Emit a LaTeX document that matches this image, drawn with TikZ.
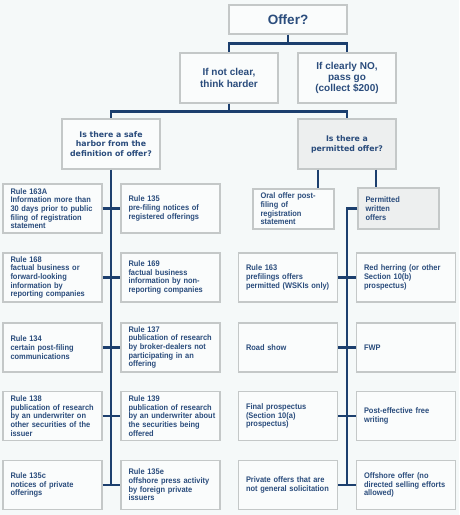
\documentclass[tikz,border=0pt]{standalone}
\usepackage{fontspec}
\setmainfont{Liberation Sans}
\newfontfamily\rulefont[FakeStretch=0.92]{Liberation Sans}
\newfontfamily\askfont{DejaVu Sans}
\usepackage{xcolor}
\definecolor{navy}{HTML}{1C3F6E}
\definecolor{inkblue}{HTML}{2A4C7C}
\definecolor{paper}{HTML}{F5F9F9}
\definecolor{boxfill}{HTML}{FAFCFC}
\definecolor{boxgrey}{HTML}{C4C8C8}
\definecolor{shade}{HTML}{EDEFEF}

\newcommand\rulepad{\leftskip=4.5pt\hyphenpenalty=10000\exhyphenpenalty=10000\relax}

\tikzset{
  every node/.style={text=inkblue},
  plainbox/.style={draw=boxgrey, fill=boxfill, line width=1.3pt, align=center, inner sep=2pt},
  rulebox/.style={plainbox, minimum width=99pt, minimum height=49pt, text width=93pt,
    inner xsep=3pt, align=left, font=\rulefont\bfseries\fontsize{8.1}{8.7}\selectfont,
    execute at begin node=\rulepad},
  askbox/.style={plainbox, minimum width=98pt, minimum height=50pt,
    font=\askfont\bfseries\fontsize{7.8}{9.8}\selectfont},
  topbox/.style={plainbox, minimum width=98pt, minimum height=50pt,
    font=\bfseries\fontsize{10}{11.3}\selectfont},
  link/.style={draw=navy, line width=2.6pt}
}

\begin{document}
\begin{tikzpicture}[x=1pt, y=-1pt]
  \fill[paper] (0,0) rectangle (459,515);
  \useasboundingbox (0,0) rectangle (459,515);

  % top of the tree
  \node[plainbox, minimum width=118pt, minimum height=29pt, font=\bfseries\fontsize{13.5}{15}\selectfont]
    (offer) at (288,19.5) {Offer?};
  \node[topbox] (notclear) at (229,78) {If not clear,\\think harder};
  \node[topbox] (clearno) at (347,78) {If clearly NO,\\pass go\\(collect \$200)};
  \node[askbox] (harbor) at (111,144) {Is there a safe\\harbor from the\\definition of offer?};
  \node[askbox, fill=shade] (permitted) at (347,144) {Is there a\\permitted offer?};

  \draw[link] (offer.south) -- ++(0,9) -| (notclear.north);
  \draw[link] (offer.south) -- ++(0,9) -| (clearno.north);
  \draw[link] (notclear.south) -- ++(0,8) -| (harbor.north);
  \draw[link] (notclear.south) -- ++(0,8) -| (permitted.north);

  % safe harbors
  \node[rulebox] (h1l) at (52.5,208.5) {Rule 163A\\Information more than\\30 days prior to public\\filing of registration\\statement};
  \node[rulebox] (h1r) at (170.5,208.5) {Rule 135\\pre-filing notices of\\registered offerings};
  \node[rulebox] (h2l) at (52.5,277.5) {Rule 168\\factual business or\\forward-looking\\information by\\reporting companies};
  \node[rulebox] (h2r) at (170.5,277.5) {Rule 169\\factual business\\information by non-\\reporting companies};
  \node[rulebox] (h3l) at (52.5,347.5) {Rule 134\\certain post-filing\\communications};
  \node[rulebox] (h3r) at (170.5,347.5) {Rule 137\\publication of research\\by broker-dealers not\\participating in an\\offering};
  \node[rulebox] (h4l) at (52.5,416) {Rule 138\\publication of research\\by an underwriter on\\other securities of the\\issuer};
  \node[rulebox] (h4r) at (170.5,416) {Rule 139\\publication of research\\by an underwriter about\\the securities being\\offered};
  \node[rulebox] (h5l) at (52.5,485) {Rule 135c\\notices of private\\offerings};
  \node[rulebox] (h5r) at (170.5,485) {Rule 135e\\offshore press activity\\by foreign private\\issuers};

  \draw[link] (harbor.south) -- (harbor.south |- h5l.east);
  \foreach \r in {1,...,5}
    \draw[link] (h\r l.east) -- (h\r r.west);

  % permitted offers
  \node[rulebox, minimum width=81pt, minimum height=40pt, text width=75pt] (oral) at (293.5,209)
    {Oral offer post-\\filing of\\registration\\statement};
  \node[rulebox, fill=shade, minimum width=81pt, minimum height=41pt, text width=75pt] (written) at (398.5,208.5)
    {Permitted\\written\\offers};

  \draw[link] ([xshift=-29pt]permitted.south) -- ([xshift=-29pt]permitted.south |- oral.north);
  \draw[link] ([xshift=29pt]permitted.south) -- ([xshift=29pt]permitted.south |- written.north);

  \node[rulebox] (p2l) at (288,277.5) {Rule 163\\prefilings offers\\permitted (WSKIs only)};
  \node[rulebox] (p2r) at (406,277.5) {Red herring (or other\\Section 10(b)\\prospectus)};
  \node[rulebox] (p3l) at (288,347.5) {Road show\\[3pt]};
  \node[rulebox] (p3r) at (406,347.5) {FWP\\[3pt]};
  \node[rulebox] (p4l) at (288,416) {Final prospectus\\(Section 10(a)\\prospectus)};
  \node[rulebox] (p4r) at (406,416) {Post-effective free\\writing};
  \node[rulebox] (p5l) at (288,485) {Private offers that are\\not general solicitation};
  \node[rulebox] (p5r) at (406,485) {Offshore offer (no\\directed selling efforts\\allowed)};

  \coordinate (spine) at (347,485);
  \draw[link] (written.west) -| (spine);
  \foreach \r in {2,...,5}
    \draw[link] (p\r l.east) -- (p\r r.west);
\end{tikzpicture}
\end{document}
